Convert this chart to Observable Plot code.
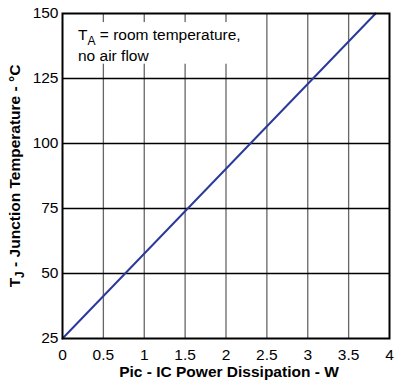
<!DOCTYPE html>
<html><head><meta charset="utf-8">
<script src="https://cdn.jsdelivr.net/npm/d3@7"></script>
<script src="https://cdn.jsdelivr.net/npm/@observablehq/plot@0.6"></script>
<style>body{margin:0;background:#fff}svg{display:block}</style>
</head><body><div id="c"></div>
<script>
const powerW = [0, 3.83];
const junctionC = [25, 150];
const xTicks = [0, 0.5, 1, 1.5, 2, 2.5, 3, 3.5, 4];
const yTicks = [25, 50, 75, 100, 125, 150];
const xInner = [0.5, 1, 1.5, 2, 2.5, 3, 3.5];
const yInner = [50, 75, 100, 125];
const data = powerW.map((p, i) => ({p, t: junctionC[i]}));
const font = "Liberation Sans, Arial, sans-serif";
const fs = 15.5;

const chart = Plot.plot({
  width: 396, height: 383,
  marginLeft: 62, marginTop: 13, marginRight: 7, marginBottom: 45,
  style: {fontFamily: font, fontSize: fs + "px", background: "#fff", color: "#000"},
  x: {domain: [0, 4], label: null},
  y: {domain: [25, 150], label: null},
  marks: [
    Plot.ruleX(xInner, {stroke: "#666", strokeWidth: 1.3}),
    Plot.ruleY(yInner, {stroke: "#000", strokeWidth: 1.5}),
    Plot.rect([{x1: 0, x2: 2.3, y1: 130.5, y2: 146.5}], {x1: "x1", x2: "x2", y1: "y1", y2: "y2", fill: "#fff"}),
    Plot.line(data, {x: "p", y: "t", stroke: "#2b3a9a", strokeWidth: 2}),
    Plot.frame({stroke: "#000", strokeWidth: 2}),
    Plot.axisX({ticks: xTicks, tickSize: 0, tickPadding: 10, tickFormat: d => String(d), fontSize: fs, label: null}),
    Plot.axisY({ticks: yTicks, tickSize: 0, tickPadding: 4, fontSize: fs, label: null})
  ]
});
document.getElementById("c").appendChild(chart);

const svg = d3.select(chart);
const ns = svg.append("g").attr("font-family", font).attr("fill", "#000").attr("text-anchor", "start");
const t1 = ns.append("text").attr("x", 78).attr("y", 40).attr("font-size", fs);
t1.append("tspan").text("T");
t1.append("tspan").attr("font-size", 12).attr("dy", 5).text("A");
t1.append("tspan").attr("dy", -5).text(" = room temperature,");
ns.append("text").attr("x", 78).attr("y", 61).attr("font-size", fs).text("no air flow");

ns.append("text").attr("x", 229).attr("y", 377).attr("text-anchor", "middle")
  .attr("font-size", fs).attr("font-weight", "bold").text("Pic - IC Power Dissipation - W");
const yl = ns.append("text").attr("transform", "translate(20,176) rotate(-90)").attr("text-anchor", "middle")
  .attr("font-size", fs).attr("font-weight", "bold");
yl.append("tspan").text("T");
yl.append("tspan").attr("font-size", 12).attr("dy", 4).text("J");
yl.append("tspan").attr("dy", -4).text(" - Junction Temperature - °C");
</script></body></html>
